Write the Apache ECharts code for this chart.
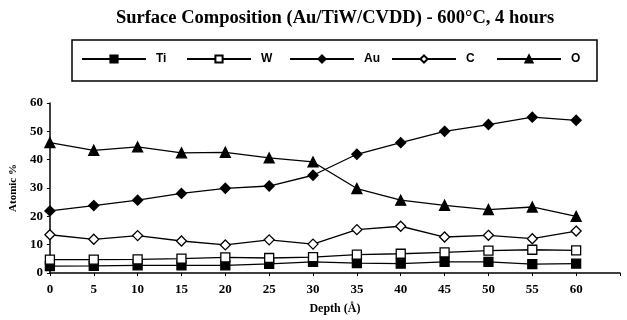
<!DOCTYPE html>
<html>
<head>
<meta charset="utf-8">
<script src="https://cdn.jsdelivr.net/npm/echarts@6/dist/echarts.min.js"></script>
<style>html,body{margin:0;padding:0;background:#fff;}#c{width:627px;height:320px;}</style>
</head>
<body>
<div id="c"></div>
<script>
const depth = [0, 5, 10, 15, 20, 25, 30, 35, 40, 45, 50, 55, 60];
const ti = [2.4, 2.5, 2.7, 2.7, 2.7, 3.2, 3.9, 3.5, 3.3, 3.9, 3.9, 3.1, 3.3];
const w  = [4.7, 4.7, 4.8, 5.1, 5.5, 5.3, 5.6, 6.5, 6.8, 7.3, 7.9, 8.2, 8.0];
const au = [21.9, 23.8, 25.7, 28.1, 29.9, 30.7, 34.5, 41.9, 46.0, 50.0, 52.4, 55.0, 53.9];
const c  = [13.5, 11.9, 13.2, 11.3, 9.9, 11.7, 10.2, 15.3, 16.5, 12.7, 13.3, 12.1, 14.8];
const o  = [46.0, 43.3, 44.5, 42.4, 42.6, 40.6, 39.2, 29.8, 25.7, 23.9, 22.4, 23.3, 20.0];
const xTicks = [0, 5, 10, 15, 20, 25, 30, 35, 40, 45, 50, 55, 60];
const yTicks = [0, 10, 20, 30, 40, 50, 60];

const serif = '"Liberation Serif", "DejaVu Serif", serif';
const sans = '"Liberation Sans", Arial, sans-serif';

function pairs(vals) { return depth.map((d, i) => [d, vals[i]]); }

const defs = [
  {name: 'Ti', data: ti, symbol: 'rect', fill: '#000', size: 9, left: 81},
  {name: 'W', data: w, symbol: 'rect', fill: '#fff', size: 9, left: 186},
  {name: 'Au', data: au, symbol: 'diamond', fill: '#000', size: 10, left: 289},
  {name: 'C', data: c, symbol: 'diamond', fill: '#fff', size: 10, left: 391},
  {name: 'O', data: o, symbol: 'triangle', fill: '#000', size: 10, left: 496}
];

const chart = echarts.init(document.getElementById('c'), null, {renderer: 'canvas'});
chart.setOption({
  animation: false,
  backgroundColor: '#fff',
  title: {
    text: 'Surface Composition (Au/TiW/CVDD) - 600°C, 4 hours',
    left: 330, textAlign: 'center', top: 4,
    textStyle: {fontFamily: serif, fontWeight: 'bold', fontSize: 18.5, color: '#000'}
  },
  graphic: [{
    type: 'rect', shape: {x: 72, y: 40, width: 525, height: 41},
    style: {fill: 'none', stroke: '#000', lineWidth: 1.5}
  }],
  legend: defs.map(d => ({
    data: [d.name],
    left: d.left, top: 53, itemWidth: 64, itemHeight: 9,
    padding: 0,
    textStyle: {fontFamily: sans, fontWeight: 'bold', fontSize: 12, color: '#000', padding: [0, 0, 0, 5]}
  })),
  grid: {left: 49, right: 7, top: 103, bottom: 47},
  xAxis: {
    type: 'value', min: 0, max: 65, interval: 5,
    name: 'Depth (Å)', nameLocation: 'middle', nameGap: 30,
    nameTextStyle: {fontFamily: serif, fontWeight: 'bold', fontSize: 12, color: '#000'},
    axisLine: {lineStyle: {color: '#000', width: 1.5}},
    axisTick: {show: true, length: 3, lineStyle: {color: '#000'}},
    splitLine: {show: false},
    axisLabel: {
      margin: 10, color: '#000', fontFamily: serif, fontWeight: 'bold', fontSize: 13,
      formatter: v => xTicks.includes(v) ? String(v) : ''
    }
  },
  yAxis: {
    type: 'value', min: 0, max: 60, interval: 10,
    name: 'Atomic %', nameLocation: 'middle', nameGap: 28,
    nameTextStyle: {fontFamily: serif, fontWeight: 'bold', fontSize: 11, color: '#000'},
    axisLine: {show: true, lineStyle: {color: '#000', width: 1.5}},
    axisTick: {show: true, length: 3, lineStyle: {color: '#000'}},
    splitLine: {show: false},
    axisLabel: {
      margin: 7, color: '#000', fontFamily: serif, fontWeight: 'bold', fontSize: 13,
      formatter: v => yTicks.includes(v) ? String(v) : ''
    }
  },
  series: defs.map(d => ({
    name: d.name, type: 'line', data: pairs(d.data),
    symbol: d.symbol, symbolSize: d.size, showAllSymbol: true,
    lineStyle: {color: '#000', width: 1.3},
    itemStyle: {color: d.fill, borderColor: '#000', borderWidth: 1.3},
    z: 3
  }))
});
</script>
</body>
</html>
